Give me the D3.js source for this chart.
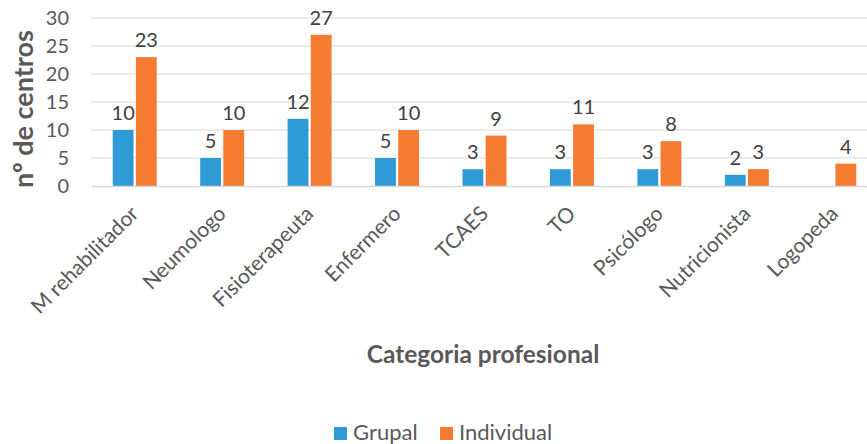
<!DOCTYPE html>
<html>
<head>
<meta charset="utf-8">
<script src="https://cdn.jsdelivr.net/npm/d3@7"></script>
<style>
  body { margin: 0; background: #fff; }
  text { font-family: Lato, "Open Sans", sans-serif; }
</style>
</head>
<body>
<svg id="chart"></svg>
<script>
var categories = ["M rehabilitador", "Neumologo", "Fisioterapeuta", "Enfermero", "TCAES", "TO", "Psicólogo", "Nutricionista", "Logopeda"];
var series = ["Grupal", "Individual"];
var grupal = [10, 5, 12, 5, 3, 3, 3, 2, null];
var individual = [23, 10, 27, 10, 9, 11, 8, 3, 4];
var yTicks = [0, 5, 10, 15, 20, 25, 30];
var colors = ["#2E9BD6", "#F47B30"];

var W = 867, H = 444;
var margin = {top: 18, right: -11, bottom: 258, left: 91},
    w = W - margin.left - margin.right,
    h = H - margin.top - margin.bottom;

var svg = d3.select("#chart").attr("width", W).attr("height", H);
var g = svg.append("g").attr("transform", `translate(${margin.left}, ${margin.top})`);

var x = d3.scaleBand().domain(categories).range([0, w]).paddingInner(0).paddingOuter(0);
var x1 = d3.scaleBand().domain(series).range([x.bandwidth() / 2 - 22, x.bandwidth() / 2 + 22]).paddingInner(0.1);
var y = d3.scaleLinear().domain([0, 30]).range([h, 0]);

// gridlines
g.append("g").selectAll("line").data(yTicks.filter(d => d > 0)).enter().append("line")
  .attr("x1", 0).attr("x2", w)
  .attr("y1", d => y(d)).attr("y2", d => y(d))
  .attr("stroke", "#d9d9d9").attr("stroke-width", 1);

// y axis labels
var yAxis = g.append("g").call(d3.axisLeft(y).tickValues(yTicks).tickSize(0).tickPadding(22));
yAxis.select(".domain").remove();
yAxis.selectAll("text").style("font-size", "20px").attr("fill", "#595959").attr("font-family", "Lato");

// bars
var data = [];
categories.forEach((c, i) => {
  [grupal[i], individual[i]].forEach((v, j) => {
    if (v != null) data.push({cat: c, s: series[j], v: v, j: j});
  });
});

g.selectAll(".bar").data(data).enter().append("rect")
  .attr("class", "bar")
  .attr("x", d => x(d.cat) + x1(d.s))
  .attr("width", x1.bandwidth())
  .attr("y", d => y(d.v))
  .attr("height", d => h - y(d.v))
  .attr("fill", d => colors[d.j]);

g.selectAll(".lbl").data(data).enter().append("text")
  .attr("class", "lbl")
  .attr("x", d => x(d.cat) + x1(d.s) + x1.bandwidth() / 2)
  .attr("y", d => y(d.v) - 10)
  .attr("text-anchor", "middle")
  .style("font-size", "20px")
  .attr("fill", "#404040")
  .text(d => d.v);

// x axis
var xAxis = g.append("g").attr("transform", `translate(0, ${h})`)
  .call(d3.axisBottom(x).tickSize(0).tickPadding(0));
xAxis.select(".domain").attr("stroke", "#d9d9d9").attr("stroke-width", 1.5);
xAxis.selectAll("text")
  .style("font-size", "21px").attr("fill", "#595959").attr("font-family", "Lato")
  .attr("text-anchor", "end")
  .attr("dy", null).attr("y", 0)
  .attr("transform", "translate(5, 29) rotate(-45)");

// x title
svg.append("text")
  .attr("x", 483).attr("y", 363)
  .attr("text-anchor", "middle")
  .style("font-size", "24.5px").style("font-weight", "bold")
  .attr("fill", "#595959")
  .text("Categoria profesional");

// y title
svg.append("text")
  .attr("transform", "rotate(-90)")
  .attr("x", -109).attr("y", 33)
  .attr("text-anchor", "middle")
  .style("font-size", "27px").style("font-weight", "bold")
  .attr("fill", "#595959")
  .text("nº de centros");

// legend
var legend = svg.append("g").attr("transform", "translate(334, 440)");
var lx = [0, 106];
series.forEach((s, i) => {
  legend.append("rect").attr("x", lx[i]).attr("y", -13).attr("width", 13).attr("height", 13).attr("fill", colors[i]);
  legend.append("text").attr("x", lx[i] + 19).attr("y", 0)
    .style("font-size", "22px").attr("fill", "#595959").text(s);
});
</script>
</body>
</html>
